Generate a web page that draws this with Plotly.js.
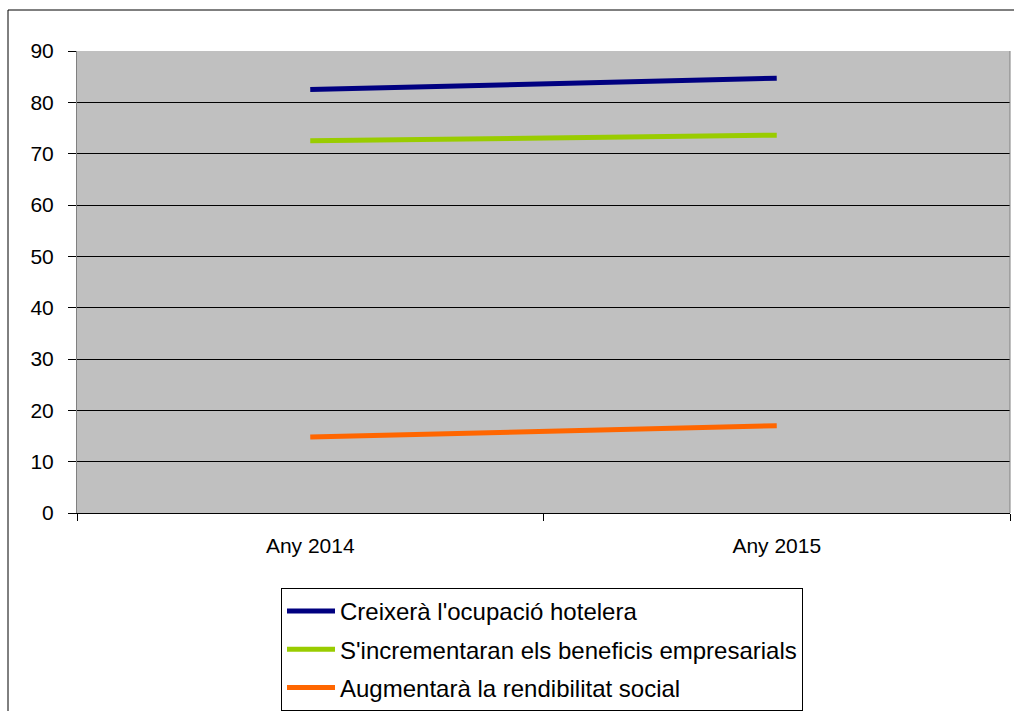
<!DOCTYPE html>
<html>
<head>
<meta charset="utf-8">
<script src="https://cdn.plot.ly/plotly-3.0.1.min.js"></script>
<style>html,body{margin:0;padding:0;background:#fff;}#chart{width:1014px;height:711px;}</style>
</head>
<body>
<div id="chart"></div>
<script>
const categories = ["Any 2014", "Any 2015"];
const seriesNames = ["Creixerà l'ocupació hotelera", "S'incrementaran els beneficis empresarials", "Augmentarà la rendibilitat social"];
const ocupacio = [82.5, 84.7];
const beneficis = [72.5, 73.6];
const rendibilitat = [14.8, 17.0];
const colors = ["#000080", "#99CC00", "#FF6600"];

const W = 1014, H = 711;
const L = 77, R = 4, T = 51, B = 198;
const pw = W - L - R, ph = H - T - B;
const px = x => (x - L) / pw;
const py = y => (H - B - y) / ph;

const seriesData = [ocupacio, beneficis, rendibilitat];
const traces = seriesData.map((vals, i) => ({
  type: 'scatter', mode: 'lines', x: categories, y: vals, name: seriesNames[i],
  legendgroup: 'g' + i,
  line: {color: colors[i], width: 5}
}));

const layout = {
  width: W, height: H,
  margin: {l: L, r: R, t: T, b: B, autoexpand: false},
  paper_bgcolor: '#ffffff', plot_bgcolor: '#C0C0C0',
  font: {family: 'Liberation Sans, Arial, sans-serif', size: 22, color: '#000'},
  showlegend: true,
  xaxis: {
    type: 'category', range: [-0.5, 1.5], tickson: 'boundaries',
    ticks: 'outside', ticklen: 7, tickcolor: '#000', showgrid: false,
    showline: true, linecolor: '#000', linewidth: 1, zeroline: false,
    tickfont: {size: 21}, ticklabelstandoff: 14, automargin: false
  },
  yaxis: {
    range: [0, 90], dtick: 10, ticks: 'outside', ticklen: 8, tickcolor: '#000',
    showgrid: true, gridcolor: '#000', gridwidth: 1, showline: true, linecolor: '#808080',
    zeroline: true, zerolinecolor: '#000', ticklabelstandoff: 10, fixedrange: true,
    tickfont: {size: 21}, automargin: false
  },
  legend: {
    x: px(281), y: py(588), xanchor: 'left', yanchor: 'top',
    bordercolor: '#000', borderwidth: 1, bgcolor: '#fff',
    font: {size: 24}, itemwidth: 48, tracegroupgap: 4, traceorder: 'grouped'
  },
  shapes: [
    {type: 'rect', xref: 'paper', yref: 'paper', x0: px(8), x1: px(1030), y0: py(730), y1: py(10),
     line: {color: '#000', width: 1}, fillcolor: 'rgba(0,0,0,0)', layer: 'below'},
    {type: 'line', xref: 'paper', yref: 'paper', x0: 1, x1: 1, y0: 0, y1: 1, line: {color: '#808080', width: 1}}
  ]
};

Plotly.newPlot('chart', traces, layout, {displayModeBar: false, staticPlot: true});
</script>
</body>
</html>
